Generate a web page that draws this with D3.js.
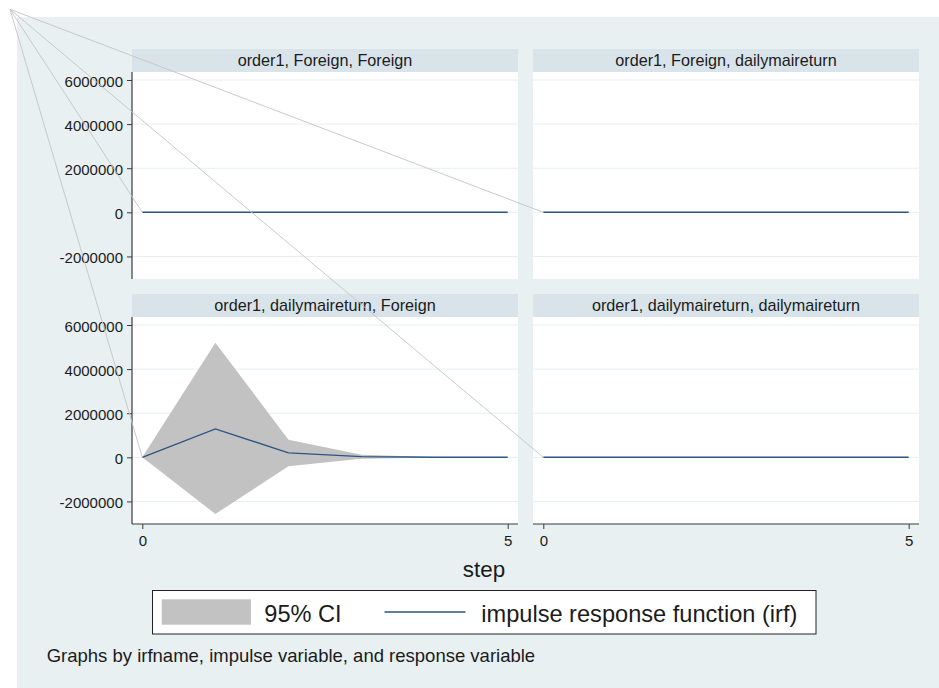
<!DOCTYPE html>
<html>
<head>
<meta charset="utf-8">
<script src="https://cdn.jsdelivr.net/npm/d3@7"></script>
<style>
  body { margin: 0; background: #ffffff; }
  svg { display: block; }
  text { font-family: "Liberation Sans", Arial, Helvetica, sans-serif; fill: #1b1b1b; }
</style>
</head>
<body>
<svg id="chart" width="939" height="688"></svg>
<script>
// ---- data -------------------------------------------------------------
const steps = [0, 1, 2, 3, 4, 5];

const irfName = "order1";
const impulseVars  = ["Foreign", "Foreign", "dailymaireturn", "dailymaireturn"];
const responseVars = ["Foreign", "dailymaireturn", "Foreign", "dailymaireturn"];

// impulse: Foreign -> response: Foreign
const irfForeignForeign   = [0, 0, 0, 0, 0, 0];
const lowerForeignForeign = [0, 0, 0, 0, 0, 0];
const upperForeignForeign = [0, 0, 0, 0, 0, 0];

// impulse: Foreign -> response: dailymaireturn
const irfForeignReturn   = [0, 0, 0, 0, 0, 0];
const lowerForeignReturn = [0, 0, 0, 0, 0, 0];
const upperForeignReturn = [0, 0, 0, 0, 0, 0];

// impulse: dailymaireturn -> response: Foreign
const irfReturnForeign   = [0, 1290000, 200000, 30000, 5000, 1000];
const lowerReturnForeign = [0, -2570000, -410000, -60000, -10000, -1500];
const upperReturnForeign = [0, 5200000, 800000, 120000, 20000, 3500];

// impulse: dailymaireturn -> response: dailymaireturn
const irfReturnReturn   = [0, 0, 0, 0, 0, 0];
const lowerReturnReturn = [0, 0, 0, 0, 0, 0];
const upperReturnReturn = [0, 0, 0, 0, 0, 0];

const yTickValues = [-2000000, 0, 2000000, 4000000, 6000000];
const xTickValues = [0, 5];
const legendLabels = ["95% CI", "impulse response function (irf)"];
const xTitle = "step";
const noteText = "Graphs by irfname, impulse variable, and response variable";

// ---- layout -----------------------------------------------------------
const svg = d3.select("#chart");
const W = 939, H = 688;

const colors = {
  region: "#e8f0f2",
  strip: "#d9e4ea",
  plot: "#ffffff",
  grid: "#e6eef1",
  axis: "#3a3a3a",
  ci: "#c2c2c2",
  irf: "#2b5682",
  leader: "#c4c4c4"
};

const colX = [132, 533];
const rowY = [49, 294];          // top of each strip header
const panelW = 386, stripH = 23, plotH = 207;

const panels = [
  { col: 0, row: 0, irf: irfForeignForeign, lo: lowerForeignForeign, hi: upperForeignForeign },
  { col: 1, row: 0, irf: irfForeignReturn,  lo: lowerForeignReturn,  hi: upperForeignReturn },
  { col: 0, row: 1, irf: irfReturnForeign,  lo: lowerReturnForeign,  hi: upperReturnForeign },
  { col: 1, row: 1, irf: irfReturnReturn,   lo: lowerReturnReturn,   hi: upperReturnReturn }
].map((p, i) => Object.assign(p, {
  title: `${irfName}, ${impulseVars[i]}, ${responseVars[i]}`
}));

// shared scales (all panels use a common y range)
const allLo = d3.min([...panels.flatMap(p => p.lo), ...yTickValues]);
const allHi = d3.max([...panels.flatMap(p => p.hi), ...yTickValues]);
const y = d3.scaleLinear().domain([allLo, allHi]).range([plotH - 10, 8]);
const x = d3.scaleLinear().domain([0, 5]).range([10.3, panelW - 10.3]);

// outer graph region
svg.append("rect").attr("width", W).attr("height", H).attr("fill", "#ffffff");
svg.append("rect").attr("x", 17).attr("y", 17).attr("width", W - 17).attr("height", H - 17)
  .attr("fill", colors.region);

const fmt = d => d.toString();

panels.forEach(p => {
  const gx = colX[p.col], gy = rowY[p.row];
  const g = svg.append("g").attr("transform", `translate(${gx},${gy})`);

  // strip header
  g.append("rect").attr("width", panelW).attr("height", stripH).attr("fill", colors.strip);
  g.append("text").attr("x", panelW / 2).attr("y", 16.8)
    .attr("text-anchor", "middle").attr("font-size", 16.2).text(p.title);

  const plot = g.append("g").attr("transform", `translate(0,${stripH})`);
  p.plotX = gx; p.plotY = gy + stripH;

  plot.append("rect").attr("width", panelW).attr("height", plotH).attr("fill", colors.plot);

  // horizontal grid
  plot.selectAll("line.grid").data(yTickValues).join("line")
    .attr("class", "grid")
    .attr("x1", 0).attr("x2", panelW)
    .attr("y1", d => y(d)).attr("y2", d => y(d))
    .attr("stroke", colors.grid).attr("stroke-width", 1);

  // confidence band
  const band = d3.area()
    .x((d, i) => x(steps[i]))
    .y0((d, i) => y(p.lo[i]))
    .y1((d, i) => y(p.hi[i]));
  plot.append("path").datum(steps).attr("d", band).attr("fill", colors.ci);

  // impulse response line
  const line = d3.line().x((d, i) => x(steps[i])).y(d => y(d));
  plot.append("path").datum(p.irf).attr("d", line)
    .attr("fill", "none").attr("stroke", colors.irf).attr("stroke-width", 1.4);

  // y axis on left column
  if (p.col === 0) {
    const ax = plot.append("g").call(
      d3.axisLeft(y).tickValues(yTickValues).tickFormat(fmt).tickSize(5).tickPadding(4));
    ax.select(".domain").remove();
    ax.attr("font-size", null).attr("font-family", null);
    ax.selectAll(".tick line").attr("stroke", colors.axis);
    ax.selectAll(".tick text").attr("font-size", 15).attr("dy", "0.42em").attr("fill", "#1b1b1b");
    plot.append("line").attr("x1", 0).attr("x2", 0).attr("y1", 0).attr("y2", plotH)
      .attr("stroke", colors.axis).attr("stroke-width", 1.2);
  }

  // x axis on bottom row
  if (p.row === 1) {
    const ax = plot.append("g").attr("transform", `translate(0,${plotH})`).call(
      d3.axisBottom(x).tickValues(xTickValues).tickFormat(fmt).tickSize(5).tickPadding(6));
    ax.select(".domain").remove();
    ax.attr("font-size", null).attr("font-family", null);
    ax.selectAll(".tick line").attr("stroke", colors.axis);
    ax.selectAll(".tick text").attr("font-size", 15).attr("fill", "#1b1b1b");
    plot.append("line").attr("x1", 0).attr("x2", panelW).attr("y1", plotH).attr("y2", plotH)
      .attr("stroke", colors.axis).attr("stroke-width", 1.2);
  }
});

// leader lines from the corner anchor to each response's starting point
const anchor = [10, 9.3];
svg.append("g").selectAll("line").data(panels).join("line")
  .attr("x1", anchor[0]).attr("y1", anchor[1])
  .attr("x2", p => p.plotX + x(steps[0]))
  .attr("y2", p => p.plotY + y(p.irf[0]))
  .attr("stroke", colors.leader).attr("stroke-width", 0.9);

// axis title
svg.append("text").attr("x", 484).attr("y", 576.7).attr("text-anchor", "middle")
  .attr("font-size", 22.4).text(xTitle);

// legend
const leg = svg.append("g").attr("transform", "translate(152.5,590.5)");
leg.append("rect").attr("width", 663.5).attr("height", 43.5)
  .attr("fill", "#ffffff").attr("stroke", "#222222").attr("stroke-width", 1);
leg.append("rect").attr("x", 9.2).attr("y", 8.8).attr("width", 89.3).attr("height", 25.4)
  .attr("fill", colors.ci);
leg.append("text").attr("x", 111.8).attr("y", 31.8).attr("font-size", 23.6).text(legendLabels[0]);
leg.append("line").attr("x1", 232).attr("x2", 313).attr("y1", 21.5).attr("y2", 21.5)
  .attr("stroke", colors.irf).attr("stroke-width", 1.5);
leg.append("text").attr("x", 644.8).attr("y", 31.8).attr("text-anchor", "end")
  .attr("font-size", 23.6).text(legendLabels[1]);

// note
svg.append("text").attr("x", 46.7).attr("y", 661.7).attr("font-size", 18.5).text(noteText);
</script>
</body>
</html>
